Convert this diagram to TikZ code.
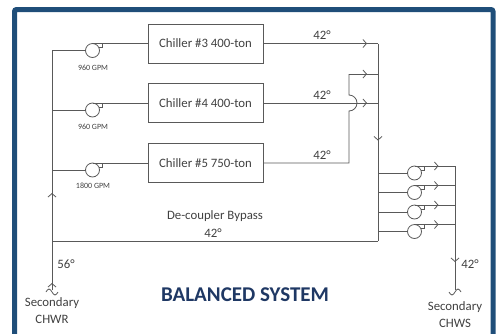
\documentclass[tikz,border=0pt]{standalone}
\usepackage{fontspec}
\setmainfont{Carlito}
\usetikzlibrary{arrows.meta,decorations.markings}
\definecolor{pipe}{RGB}{89,89,89}
\definecolor{frameblue}{RGB}{31,78,121}
\definecolor{titleblue}{RGB}{31,56,100}
\begin{document}
\begin{tikzpicture}[x=1pt,y=-1pt,
        line/.style={draw=pipe,line width=0.8pt},
        chiller/.style={draw=pipe,line width=0.8pt,minimum width=115pt,
            minimum height=39pt,inner sep=0pt,text=black!75,
            font=\fontsize{12.8}{14}\selectfont},
        lbl/.style={inner sep=0pt,text=black!75,font=\fontsize{12.8}{14}\selectfont},
        gpm/.style={inner sep=0pt,text=black!75,font=\fontsize{8}{9}\selectfont},
        barb/.tip={Straight Barb[length=3.5pt,width=8pt,line width=0.8pt]},
        flow/.style={postaction={decorate},
            decoration={markings,mark=at position #1 with {\arrow[pipe]{barb}}}},
        pics/pump/.style={code={
            \draw[line] (0,0) circle (7);
            \draw[line] (0,-7) -- (10,-7) -- (10,-3) -- (6.3,-3);
            \coordinate (-in) at (-7,0);
            \coordinate (-out) at (10,-7);
        }}]
\useasboundingbox (0,0) rectangle (501,333);
\draw[frameblue,line width=5pt,rounded corners=2pt]
    (14.5,345) -- (14.5,9.5) -- (493,9.5) -- (493,345);

% chillers and primary pumps
\node[chiller] (ch3) at (205.5,43.5) {Chiller \#3 400-ton};
\node[chiller] (ch4) at (205.5,103) {Chiller \#4 400-ton};
\node[chiller] (ch5) at (205.5,163) {Chiller \#5 750-ton};
\pic (p3) at (92.5,50.5) {pump};
\pic (p4) at (92.5,110) {pump};
\pic (p5) at (92.5,170) {pump};
\node[gpm] (g3) at (93,68) {960 GPM};
\node[gpm] (g4) at (93,127) {960 GPM};
\node[gpm] (g5) at (93,186) {1800 GPM};
\draw[line] (p3-out) -- (ch3.west);
\draw[line] (p4-out) -- (ch4.west);
\draw[line] (p5-out) -- (ch5.west);

% return header
\coordinate (rtn) at (52,290);
\coordinate (lw) at (52,241);
\coordinate (top) at (52,50.5);
\draw[line,flow=7pt] (rtn) -- (lw);
\draw[line,flow=48pt] (lw) -- (top);
\draw[line] (p3-in -| lw) -- (p3-in);
\draw[line] (p4-in -| lw) -- (p4-in);
\draw[line] (p5-in -| lw) -- (p5-in);

% supply side of chillers
\coordinate (hs) at (378,43.5);
\coordinate (hb) at (378,241);
\draw[line,flow=-11pt] (ch3.east) -- (hs);
\draw[line,flow=-11pt] (ch4.east) -- (ch4.east -| hs);
\coordinate (jmp) at (349,163);
\draw[line] (ch5.east) -- (jmp) -- (349,111)
    arc[start angle=90,end angle=-90,radius=8] -- (349,74) coordinate (jt);
\draw[line,flow=-11pt] (jt) -- (jt -| hs);
\draw[line,flow=97pt] (hs) -- (hb);
\draw[line] (hb) -- (lw);
\node[lbl] (t3) at (322,35) {42°};
\node[lbl] (t4) at (322,95) {42°};
\node[lbl] (t5) at (322,155) {42°};
\node[lbl] (dcb) at (215,216) {De-coupler Bypass};
\node[lbl] (dct) at (213,233) {42°};

% secondary pumps
\coordinate (sup) at (455,166);
\coordinate (sply) at (455,290);
\foreach \i/\y in {1/173,2/192.5,3/212,4/231.5} {
    \pic (s\i) at (414.5,\y) {pump};
    \draw[line] (s\i-in -| hb) -- (s\i-in);
    \draw[line,flow=14pt] (s\i-out) -- (s\i-out -| sup);
}
\draw[line,flow=96pt] (sup) -- (sply);

% ends
\draw[line] (46,292) sin (49,289) cos (52,292) sin (55,295) cos (58,292);
\draw[line] (449,292) sin (452,295) cos (455,292) sin (458,289) cos (461,292);
\node[lbl] (t56) at (66,264) {56°};
\node[lbl] (tsup) at (470,264) {42°};
\node[lbl] (cwr) at (52,303) {Secondary};
\node[lbl] (cwr2) at (52,319) {CHWR};
\node[lbl] (cws) at (455,307) {Secondary};
\node[lbl] (cws2) at (455,323) {CHWS};
\node[text=titleblue,font=\bfseries\fontsize{21}{24}\selectfont] (ttl)
    at (245,295) {BALANCED SYSTEM};
\end{tikzpicture}
\end{document}
